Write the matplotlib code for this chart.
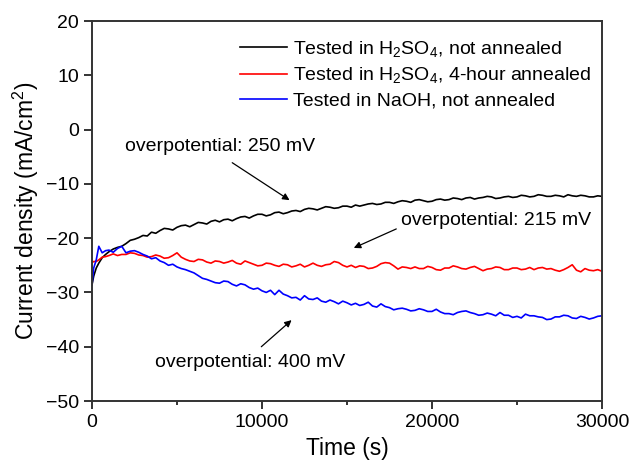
import matplotlib
matplotlib.use('Agg')
import matplotlib.pyplot as plt
from matplotlib.ticker import MultipleLocator

plt.rcParams['font.family'] = ['Liberation Sans', 'DejaVu Sans']
plt.rcParams['mathtext.default'] = 'regular'

# sampling times (s): a few early points, then every 250 s
time = [0, 100, 250, 400, 600, 800] + list(range(1000, 30001, 250))

# H2SO4, not annealed (mA/cm2)
black = [-28.6, -27.0, -25.5, -24.6, -23.6, -23.0,
         -22.5, -22.0, -21.7, -21.5, -21.0, -20.4, -20.2, -19.9,
         -19.5, -19.6, -18.9, -19.1, -18.6, -18.2, -18.3, -18.5,
         -18.0, -17.7, -17.6, -17.9, -17.5, -17.1, -17.2, -17.4,
         -16.9, -16.7, -17.0, -16.6, -16.5, -16.8, -16.4, -16.1,
         -16.0, -16.3, -15.9, -15.6, -15.6, -15.9, -15.7, -15.3,
         -15.2, -15.5, -15.3, -15.0, -14.9, -15.1, -14.7, -14.5,
         -14.6, -14.8, -14.5, -14.2, -14.3, -14.5, -14.4, -14.1,
         -14.1, -14.3, -13.9, -14.1, -13.9, -13.7, -13.6, -13.8,
         -13.7, -13.4, -13.4, -13.6, -13.3, -13.1, -13.2, -13.4,
         -13.0, -12.9, -13.1, -13.3, -13.2, -12.9, -12.8, -13.0,
         -12.9, -12.6, -12.7, -12.9, -12.6, -12.5, -12.8, -12.6,
         -12.5, -12.3, -12.4, -12.7, -12.6, -12.4, -12.3, -12.5,
         -12.4, -12.1, -12.2, -12.4, -12.3, -12.0, -12.1, -12.3,
         -12.3, -12.1, -12.2, -12.4, -12.0, -12.2, -12.3, -12.1,
         -12.2, -12.4, -12.4, -12.2, -12.3]

# H2SO4, 4-hour annealed
red = [-24.5, -24.3, -24.3, -24.0, -23.5, -23.4,
       -23.2, -22.9, -23.2, -23.0, -23.0, -22.7, -22.8, -23.1,
       -23.2, -23.5, -23.4, -23.1, -23.3, -23.7, -23.6, -23.2,
       -22.7, -23.5, -23.9, -24.2, -24.3, -23.9, -24.0, -24.4,
       -24.6, -24.2, -24.3, -24.6, -24.4, -24.1, -24.6, -24.8,
       -24.2, -24.5, -24.8, -25.1, -25.0, -24.6, -24.7, -25.0,
       -25.2, -24.8, -24.9, -25.3, -25.1, -24.8, -25.3, -25.0,
       -24.6, -25.0, -25.2, -24.9, -24.8, -24.3, -24.5, -25.0,
       -25.3, -25.0, -25.4, -25.1, -25.2, -25.6, -25.5, -25.2,
       -24.7, -24.5, -24.6, -25.1, -25.7, -25.3, -25.4, -25.6,
       -25.3, -25.6, -25.6, -25.2, -25.4, -25.8, -25.9, -25.5,
       -25.5, -25.1, -25.3, -25.6, -25.7, -25.4, -25.2, -25.6,
       -26.0, -25.7, -25.6, -25.3, -25.4, -25.8, -25.8, -25.5,
       -25.5, -25.8, -25.7, -25.4, -25.8, -25.5, -25.4, -25.7,
       -25.6, -25.9, -26.1, -25.8, -25.4, -24.9, -25.9, -26.2,
       -25.6, -25.9, -26.0, -25.8, -26.1]

# NaOH, not annealed
blue = [-28.6, -25.5, -24.0, -21.5, -22.7, -22.3,
        -22.2, -22.6, -21.9, -21.5, -22.7, -22.4, -22.3, -22.6,
        -23.0, -23.3, -23.8, -23.6, -24.2, -24.5, -25.0, -24.8,
        -25.3, -25.6, -25.8, -26.1, -26.4, -26.9, -27.4, -27.6,
        -27.9, -28.2, -28.3, -27.9, -28.0, -28.5, -28.8, -28.4,
        -28.6, -29.1, -29.4, -29.2, -29.7, -30.0, -29.6, -30.4,
        -29.6, -30.3, -30.6, -31.0, -30.9, -31.4, -30.6, -31.2,
        -31.3, -31.0, -31.6, -31.8, -31.4, -31.7, -32.1, -31.6,
        -31.9, -32.3, -32.0, -32.4, -32.2, -31.8, -32.5, -32.7,
        -32.1, -32.6, -32.8, -33.2, -33.0, -32.9, -33.1, -33.4,
        -33.3, -33.0, -33.2, -33.5, -33.5, -33.1, -33.6, -33.9,
        -33.9, -34.1, -33.7, -33.5, -33.4, -33.7, -33.9, -34.2,
        -34.1, -33.8, -34.0, -34.3, -33.7, -34.2, -34.2, -34.6,
        -34.4, -34.7, -34.0, -34.3, -34.3, -34.5, -34.6, -35.0,
        -34.9, -34.5, -34.5, -34.2, -34.3, -34.7, -34.8, -34.4,
        -34.6, -34.9, -34.7, -34.4, -34.3]

labels = ['Tested in H$_2$SO$_4$, not annealed',
          'Tested in H$_2$SO$_4$, 4-hour annealed',
          'Tested in NaOH, not annealed']


fig = plt.figure(figsize=(6.31, 4.65), dpi=100)
ax = fig.add_axes([0.1458, 0.1376, 0.8082, 0.8172])

ax.plot(time, black, color='black', lw=1.2, label=labels[0])
ax.plot(time, red, color='red', lw=1.2, label=labels[1])
ax.plot(time, blue, color='blue', lw=1.2, label=labels[2])

ax.set_xlim(0, 30000)
ax.set_ylim(-50, 20)
ax.xaxis.set_major_locator(MultipleLocator(10000))
ax.xaxis.set_minor_locator(MultipleLocator(5000))
ax.yaxis.set_major_locator(MultipleLocator(10))

for s in ax.spines.values():
    s.set_linewidth(1.4)
    s.set_color('#333333')
ax.tick_params(which='major', direction='out', length=6, width=1.4,
               color='#333333', labelsize=14, pad=3.5)
ax.tick_params(which='minor', direction='out', length=3, width=1.4,
               color='#333333')

ax.set_xlabel('Time (s)', fontsize=16.5, labelpad=4)
ax.set_ylabel('Current density (mA/cm$^2$)', fontsize=16.5, labelpad=3)

ax.legend(loc='upper left', bbox_to_anchor=(0.29, 0.952), frameon=False,
          fontsize=14, handlelength=2.4, handletextpad=0.35,
          borderpad=0, borderaxespad=0, labelspacing=0.32)

arrow = dict(arrowstyle='-|>', color='black', lw=0.9,
             mutation_scale=10, shrinkA=0, shrinkB=0)
ax.text(1950, -3.1, 'overpotential: 250 mV', fontsize=14, va='center')
ax.annotate('', xy=(11620, -13.0), xytext=(8250, -6.1), arrowprops=arrow)
ax.text(18200, -16.8, 'overpotential: 215 mV', fontsize=14, va='center')
ax.annotate('', xy=(15400, -21.8), xytext=(17900, -18.3), arrowprops=arrow)
ax.text(3680, -42.9, 'overpotential: 400 mV', fontsize=14, va='center')
ax.annotate('', xy=(11740, -35.1), xytext=(9960, -40.0), arrowprops=arrow)

fig.savefig('out.png', dpi=100)
